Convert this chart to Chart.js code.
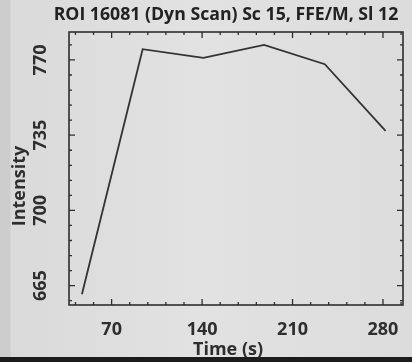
<!DOCTYPE html>
<html>
<head>
<meta charset="utf-8">
<script src="https://cdn.jsdelivr.net/npm/chart.js@4/dist/chart.umd.min.js"></script>
<style>
  html, body { margin: 0; padding: 0; width: 412px; height: 362px; overflow: hidden; }
  body {
    background: linear-gradient(to right, #cdcdcd 0px, #cdcdcd 10px, #dadada 11px, #e2e2e2 200px, #dcdcdc 412px);
    position: relative;
  }
  #strip { position: absolute; left: 0; top: 357px; width: 412px; height: 5px; background: #1c1c1c; }
  #wrap { position: absolute; left: 0; top: 0; width: 412px; height: 362px; }
</style>
</head>
<body>
<div id="wrap"><canvas id="c" width="412" height="362"></canvas></div>
<div id="strip"></div>
<script>
// ---- data ----
const titleText = "ROI 16081 (Dyn Scan) Sc 15, FFE/M, Sl 12";
const xTitle = "Time (s)";
const yTitle = "Intensity";
const times = [47, 94, 141, 188, 235, 282];
const intensity = [661, 775, 771, 777, 768, 737];
const xTickLabels = [70, 140, 210, 280];
const yTickLabels = [665, 700, 735, 770];
const xMinorStep = 14;
const yMinorStep = 7;

const ink = '#2e2e2e';

const framePlugin = {
  id: 'frame',
  afterDraw(chart) {
    const ctx = chart.ctx;
    const a = chart.chartArea;
    const xs = chart.scales.x, ys = chart.scales.y;
    ctx.save();
    ctx.strokeStyle = ink;
    ctx.fillStyle = ink;
    // box
    ctx.lineWidth = 1.6;
    ctx.strokeRect(a.left, a.top, a.right - a.left, a.bottom - a.top);
    // ticks
    ctx.lineWidth = 1.3;
    const major = 6, minor = 3;
    const xMaj = new Set(xTickLabels);
    const yMaj = new Set(yTickLabels);
    const x0 = Math.ceil(xs.min / xMinorStep) * xMinorStep;
    for (let v = x0; v <= xs.max; v += xMinorStep) {
      const px = xs.getPixelForValue(v);
      const len = xMaj.has(v) ? major : minor;
      ctx.beginPath();
      ctx.moveTo(px, a.bottom); ctx.lineTo(px, a.bottom - len);
      ctx.moveTo(px, a.top); ctx.lineTo(px, a.top + len);
      ctx.stroke();
    }
    const y0 = Math.ceil(ys.min / yMinorStep) * yMinorStep;
    for (let v = y0; v <= ys.max; v += yMinorStep) {
      const py = ys.getPixelForValue(v);
      const len = yMaj.has(v) ? major : minor;
      ctx.beginPath();
      ctx.moveTo(a.left, py); ctx.lineTo(a.left + len, py);
      ctx.moveTo(a.right, py); ctx.lineTo(a.right - len, py);
      ctx.stroke();
    }
    // x tick labels
    ctx.font = 'bold 18px "Open Sans", sans-serif';
    ctx.textAlign = 'center';
    ctx.textBaseline = 'middle';
    xTickLabels.forEach(v => {
      ctx.fillText(String(v), xs.getPixelForValue(v), 330);
    });
    // y tick labels (rotated)
    yTickLabels.forEach(v => {
      ctx.save();
      ctx.translate(41, ys.getPixelForValue(v));
      ctx.rotate(-Math.PI / 2);
      ctx.fillText(String(v), 0, 0);
      ctx.restore();
    });
    // axis titles
    ctx.font = 'bold 18px "Open Sans", sans-serif';
    ctx.fillText(xTitle, 228, 350);
    ctx.save();
    ctx.translate(20, 186);
    ctx.rotate(-Math.PI / 2);
    ctx.fillText(yTitle, 0, 0);
    ctx.restore();
    // title
    let fs = 18;
    ctx.font = 'bold ' + fs + 'px "Open Sans", sans-serif';
    const w = ctx.measureText(titleText).width;
    fs = fs * 345 / w;
    ctx.font = 'bold ' + fs.toFixed(2) + 'px "Open Sans", sans-serif';
    ctx.fillStyle = '#222';
    ctx.fillText(titleText, 226, 15);
    ctx.restore();
  }
};

new Chart(document.getElementById('c'), {
  type: 'line',
  data: {
    datasets: [{
      data: times.map((t, i) => ({ x: t, y: intensity[i] })),
      borderColor: '#333333',
      borderWidth: 1.8,
      pointRadius: 0,
      tension: 0,
      fill: false
    }]
  },
  options: {
    responsive: false,
    animation: false,
    layout: { padding: { left: 69, right: 9, top: 32, bottom: 57 } },
    plugins: { legend: { display: false }, tooltip: { enabled: false }, title: { display: false } },
    scales: {
      x: { type: 'linear', min: 37, max: 295.5, display: false },
      y: { type: 'linear', min: 656, max: 783, display: false }
    }
  },
  plugins: [framePlugin]
});
</script>
</body>
</html>
